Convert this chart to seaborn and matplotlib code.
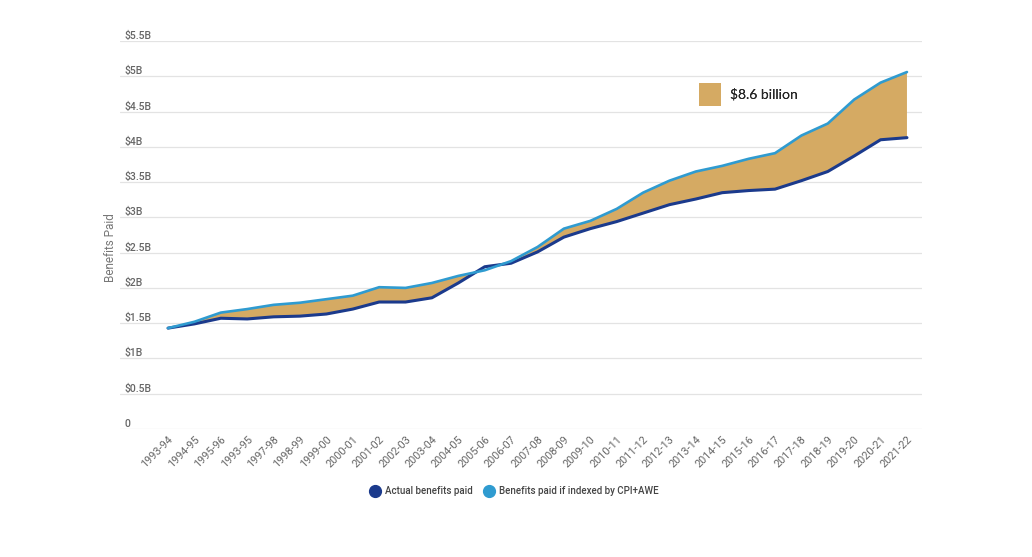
import numpy as np
import pandas as pd
import seaborn as sns
import matplotlib.pyplot as plt
from matplotlib.lines import Line2D
from matplotlib.patches import Patch

# financial years as labelled in the source chart (incl. its "1993-95" typo)
years = ['1993-94', '1994-95', '1995-96', '1993-95', '1997-98', '1998-99',
         '1999-00', '2000-01', '2001-02', '2002-03', '2003-04', '2004-05',
         '2005-06', '2006-07', '2007-08', '2008-09', '2009-10', '2010-11',
         '2011-12', '2012-13', '2013-14', '2014-15', '2015-16', '2016-17',
         '2017-18', '2018-19', '2019-20', '2020-21', '2021-22']

# billions of dollars
actual = [1.43, 1.49, 1.57, 1.56, 1.59, 1.60, 1.63, 1.70, 1.80, 1.80, 1.86,
          2.07, 2.30, 2.35, 2.51, 2.72, 2.84, 2.94, 3.06, 3.18, 3.26, 3.35,
          3.38, 3.40, 3.52, 3.65, 3.87, 4.10, 4.13]
indexed = [1.43, 1.52, 1.65, 1.70, 1.76, 1.79, 1.84, 1.89, 2.01, 2.00, 2.07,
           2.17, 2.25, 2.38, 2.58, 2.84, 2.95, 3.12, 3.35, 3.52, 3.65, 3.73,
           3.83, 3.91, 4.16, 4.33, 4.67, 4.91, 5.06]

yticks = [0, 0.5, 1, 1.5, 2, 2.5, 3, 3.5, 4, 4.5, 5, 5.5]
ytick_labels = ['0', '$0.5B', '$1B', '$1.5B', '$2B', '$2.5B', '$3B', '$3.5B',
                '$4B', '$4.5B', '$5B', '$5.5B']

gap_label = '$8.6 billion'

dark_blue = '#1b3a8c'
light_blue = '#2f9bd0'
tan = '#d5aa63'

df = pd.DataFrame({'year': years, 'actual': actual, 'indexed': indexed})
df['pos'] = np.arange(len(df))

sns.set_style('white')
plt.rcParams['font.family'] = ['Roboto', 'DejaVu Sans']

fig = plt.figure(figsize=(10.32, 5.57), dpi=100)
ax = fig.add_axes([120 / 1032, 128 / 557, 802 / 1032, 388 / 557])

ax.fill_between(df['pos'], df['actual'], df['indexed'],
                where=df['indexed'] >= df['actual'], interpolate=True,
                color=tan, linewidth=0, zorder=1)
sns.lineplot(data=df, x='pos', y='actual', color=dark_blue, linewidth=2.2,
             ax=ax, zorder=3)
sns.lineplot(data=df, x='pos', y='indexed', color=light_blue, linewidth=1.9,
             ax=ax, zorder=4)

ax.set_xlim(-1.82, 28.57)
ax.set_ylim(0, 5.5)

ax.set_yticks(yticks)
ax.set_yticklabels(ytick_labels)
ax.grid(axis='y', color='#e3e3e3', linewidth=0.9)
ax.set_axisbelow(True)
ax.tick_params(axis='y', length=0, pad=-3, labelsize=7.5, labelcolor='#666666')
for lbl in ax.get_yticklabels():
    lbl.set_horizontalalignment('left')
    lbl.set_verticalalignment('bottom')
    lbl.set_fontweight('medium')

ax.set_xticks(df['pos'])
ax.set_xticklabels(df['year'], rotation=45, ha='right', rotation_mode='anchor')
ax.tick_params(axis='x', length=0, pad=4, labelsize=7.8, labelcolor='#666666')

for s in ax.spines.values():
    s.set_visible(False)

ax.set_xlabel('')
ax.set_ylabel('')
fig.text(110 / 1032, 1 - 248 / 557, 'Benefits Paid', rotation=90,
         ha='center', va='center', fontsize=8.5, color='#777777')

# gap annotation box
gap = ax.legend(handles=[Patch(facecolor=tan, edgecolor='none', label=gap_label)],
                loc='upper left', bbox_to_anchor=(572 / 802, 1 - 35 / 388),
                frameon=False, handlelength=1.6, handleheight=2.2,
                handletextpad=0.6, borderpad=0,
                prop={'family': 'Lato', 'size': 10})
ax.add_artist(gap)

handles = [Line2D([], [], marker='o', linestyle='none', markersize=8.5,
                  color=dark_blue, label='Actual benefits paid'),
           Line2D([], [], marker='o', linestyle='none', markersize=8.5,
                  color=light_blue, label='Benefits paid if indexed by CPI+AWE')]
fig.legend(handles=handles, loc='center', bbox_to_anchor=(0.496, 1 - 491 / 557),
           ncol=2, frameon=False, handletextpad=0.1, columnspacing=0.6,
           labelcolor='#444444', prop={'size': 7, 'weight': 'medium'})

fig.savefig('out.png', dpi=100)
